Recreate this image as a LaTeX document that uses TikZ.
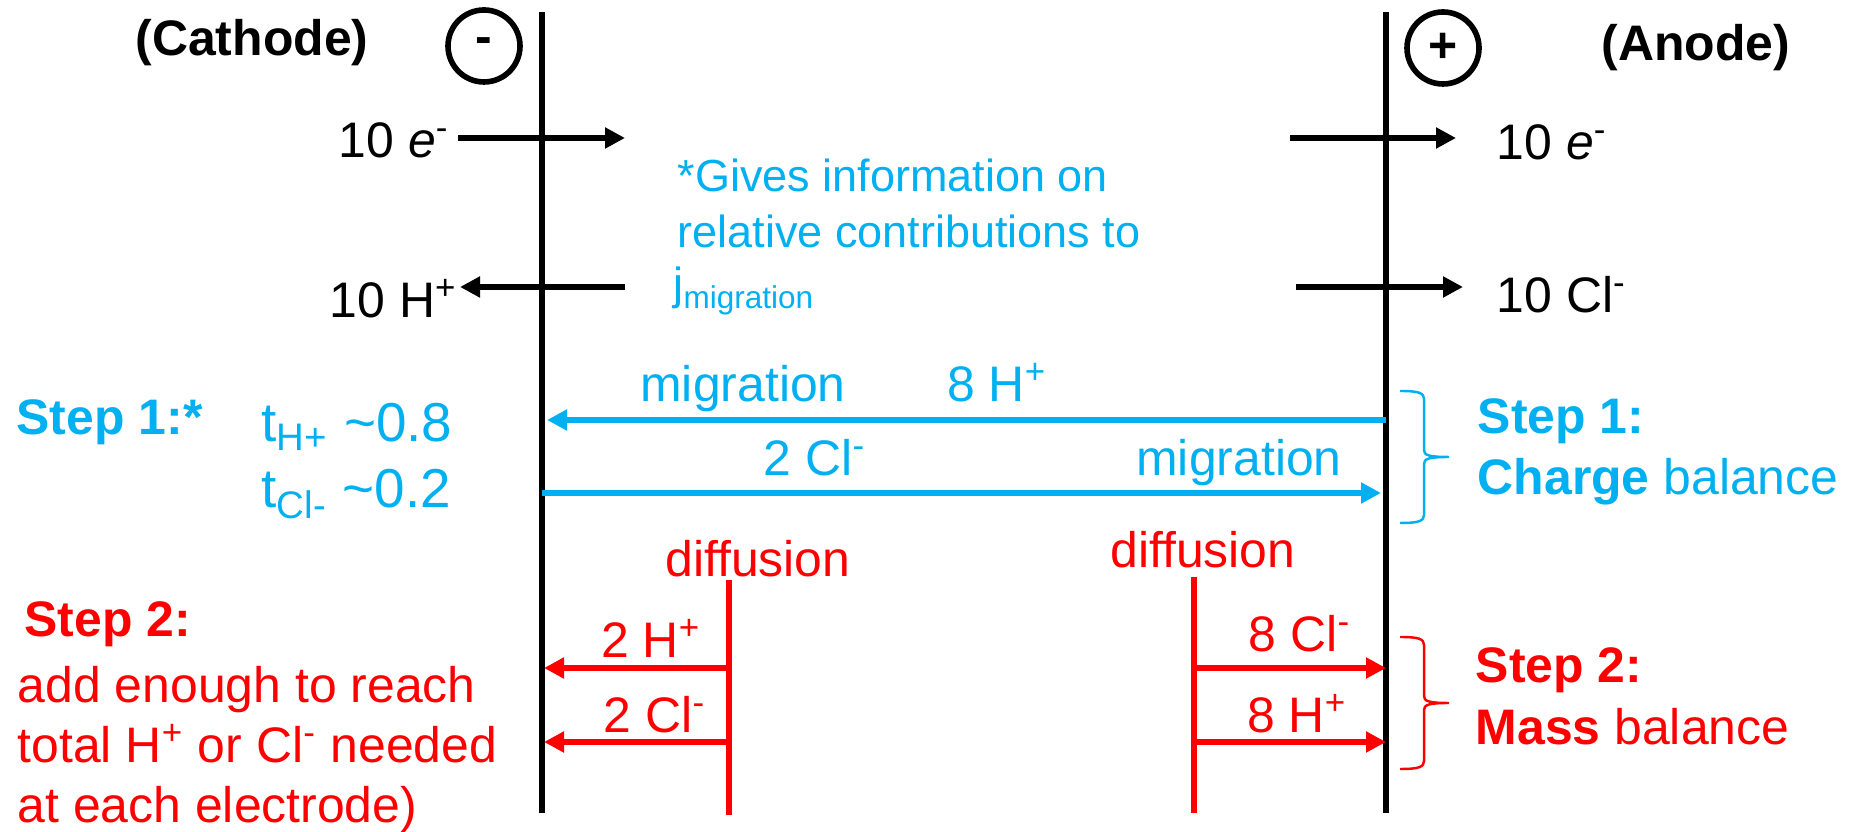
\documentclass[tikz,border=0pt]{standalone}
\usepackage{fontspec}
\setmainfont{Liberation Sans}
\usepackage{xcolor}
\definecolor{colorMigration}{RGB}{0,176,240}
\definecolor{colorDiffusion}{RGB}{255,0,0}
\usepackage{tikz}
\usetikzlibrary{arrows.meta, positioning}
\tikzset{balance brace/.pic={
  \draw[pic actions] (0,0) .. controls (0.19,0) and (0.24,-0.02) .. (0.24,-0.08) -- (0.24,-0.59)
    .. controls (0.24,-0.64) and (0.28,-0.66) .. (0.49,-0.66) .. controls (0.28,-0.66) and (0.24,-0.68) .. (0.24,-0.73)
    -- (0.24,-1.24) .. controls (0.24,-1.30) and (0.19,-1.32) .. (0,-1.32);
}}

\begin{document}
\begin{tikzpicture}[every node/.style={inner sep=0pt, font=\fontsize{14.2}{17}\selectfont},
  ionlabel/.style={anchor=base},
  textline/.style={anchor=base west},
  boldline/.style={anchor=base west, font=\fontsize{14.2}{17}\selectfont\bfseries},
  note/.style={anchor=base west, colorMigration, font=\fontsize{12.8}{15.4}\selectfont},
  transference/.style={anchor=base west, colorMigration, font=\fontsize{15.6}{18}\selectfont},
  electrode/.style={line width=1.85pt},
  flux/.style={line width=1.85pt, -{Triangle[length=0.2cm, width=0.2cm]}},
  source/.style={colorDiffusion, line width=1.75pt},
  pole/.style={draw, circle, minimum size=0.72cm, line width=1.6pt, font=\fontsize{14.2}{17}\selectfont\bfseries}]
\useasboundingbox (0,0) rectangle (18.54,8.32);

\coordinate (cathTop) at (5.42,8.20);
\coordinate (cathBot) at (5.42,0.19);
\coordinate (anTop) at (13.86,8.20);
\coordinate (anBot) at (13.86,0.19);
\draw[electrode] (cathTop) -- (cathBot);
\draw[electrode] (anTop) -- (anBot);

\node[pole] (minus) at (4.84,7.86) {-};
\node[pole] (plus) at (14.43,7.84) {+};
\node[ionlabel, font=\fontsize{14.2}{17}\selectfont\bfseries] (cathode) at (2.52,7.76) {(Cathode)};
\node[ionlabel, font=\fontsize{14.2}{17}\selectfont\bfseries] (anode) at (16.96,7.71) {(Anode)};

% external circuit and overall ion demand
\node[anchor=base east] (eCath) at (4.50,6.74) {10 \textit{e}\textsuperscript{-}};
\node[textline] (eAn) at (14.96,6.72) {10 \textit{e}\textsuperscript{-}};
\node[anchor=base east] (hCath) at (4.58,5.14) {10 H\textsuperscript{+}};
\node[textline] (clAn) at (14.96,5.19) {10 Cl\textsuperscript{-}};
\coordinate (eCathFrom) at (4.58,6.94);
\coordinate (eCathTo) at (6.25,6.94);
\coordinate (eAnFrom) at (12.90,6.94);
\coordinate (eAnTo) at (14.56,6.94);
\coordinate (hCathFrom) at (6.25,5.45);
\coordinate (hCathTo) at (4.60,5.45);
\coordinate (clAnFrom) at (12.96,5.45);
\coordinate (clAnTo) at (14.63,5.45);
\draw[flux] (eCathFrom) -- (eCathTo);
\draw[flux] (eAnFrom) -- (eAnTo);
\draw[flux] (hCathFrom) -- (hCathTo);
\draw[flux] (clAnFrom) -- (clAnTo);

\node[note] (noteA) at (6.77,6.40) {*Gives information on};
\node[note] (noteB) at (6.77,5.84) {relative contributions to};
\node[note] (noteC) at (6.73,5.32) {j\textsubscript{migration}};

% step 1: migration
\node[boldline, colorMigration] (stepOneL) at (0.16,3.97) {Step 1:*};
\node[transference] (tH) at (2.61,3.90) {t\textsubscript{H+} \textasciitilde0.8};
\node[transference] (tCl) at (2.61,3.24) {t\textsubscript{Cl-} \textasciitilde0.2};
\node[ionlabel, colorMigration] (migTop) at (7.43,4.30) {migration};
\node[ionlabel, colorMigration] (hMig) at (9.97,4.30) {8 H\textsuperscript{+}};
\node[ionlabel, colorMigration] (clMig) at (8.15,3.56) {2 Cl\textsuperscript{-}};
\node[ionlabel, colorMigration] (migBot) at (12.39,3.56) {migration};
\coordinate (hMigFrom) at (13.86,4.12);
\coordinate (hMigTo) at (5.47,4.12);
\coordinate (clMigFrom) at (5.42,3.39);
\coordinate (clMigTo) at (13.81,3.39);
\draw[flux, colorMigration] (hMigFrom) -- (hMigTo);
\draw[flux, colorMigration] (clMigFrom) -- (clMigTo);
\pic[colorMigration, line width=0.7pt] (braceOne) at (14.00,4.41) {balance brace};
\node[boldline, colorMigration] (stepOneR) at (14.77,3.98) {Step 1:};
\node[textline, colorMigration] (chargeBal) at (14.77,3.37) {\textbf{Charge} balance};

% step 2: diffusion
\node[ionlabel, colorDiffusion] (difL) at (7.58,2.55) {diffusion};
\node[ionlabel, colorDiffusion] (difR) at (12.03,2.64) {diffusion};
\coordinate (srcLTop) at (7.29,2.52);
\coordinate (srcLBot) at (7.29,0.17);
\coordinate (srcRTop) at (11.94,2.55);
\coordinate (srcRBot) at (11.94,0.19);
\draw[source] (srcLTop) -- (srcLBot);
\draw[source] (srcRTop) -- (srcRBot);
\node[ionlabel, colorDiffusion] (hDif) at (6.51,1.74) {2 H\textsuperscript{+}};
\node[ionlabel, colorDiffusion] (clDifL) at (6.55,0.99) {2 Cl\textsuperscript{-}};
\node[ionlabel, colorDiffusion] (clDifR) at (13.00,1.80) {8 Cl\textsuperscript{-}};
\node[ionlabel, colorDiffusion] (hDifR) at (12.97,0.99) {8 H\textsuperscript{+}};
\coordinate (hDifFrom) at (7.29,1.64);
\coordinate (hDifTo) at (5.44,1.64);
\coordinate (clDifLFrom) at (7.29,0.90);
\coordinate (clDifLTo) at (5.44,0.90);
\coordinate (clDifRFrom) at (11.94,1.64);
\coordinate (clDifRTo) at (13.86,1.64);
\coordinate (hDifRFrom) at (11.94,0.90);
\coordinate (hDifRTo) at (13.86,0.90);
\draw[flux, colorDiffusion] (hDifFrom) -- (hDifTo);
\draw[flux, colorDiffusion] (clDifLFrom) -- (clDifLTo);
\draw[flux, colorDiffusion] (clDifRFrom) -- (clDifRTo);
\draw[flux, colorDiffusion] (hDifRFrom) -- (hDifRTo);
\pic[colorDiffusion, line width=0.7pt] (braceTwo) at (14.00,1.95) {balance brace};
\node[boldline, colorDiffusion] (stepTwoR) at (14.75,1.49) {Step 2:};
\node[textline, colorDiffusion] (massBal) at (14.75,0.87) {\textbf{Mass} balance};
\node[boldline, colorDiffusion] (stepTwoL) at (0.24,1.95) {Step 2:};
\node[textline, colorDiffusion] (needA) at (0.17,1.29) {add enough to reach};
\node[textline, colorDiffusion] (needB) at (0.17,0.69) {total H\textsuperscript{+} or Cl\textsuperscript{-} needed};
\node[textline, colorDiffusion] (needC) at (0.17,0.09) {at each electrode)};
\end{tikzpicture}
\end{document}
